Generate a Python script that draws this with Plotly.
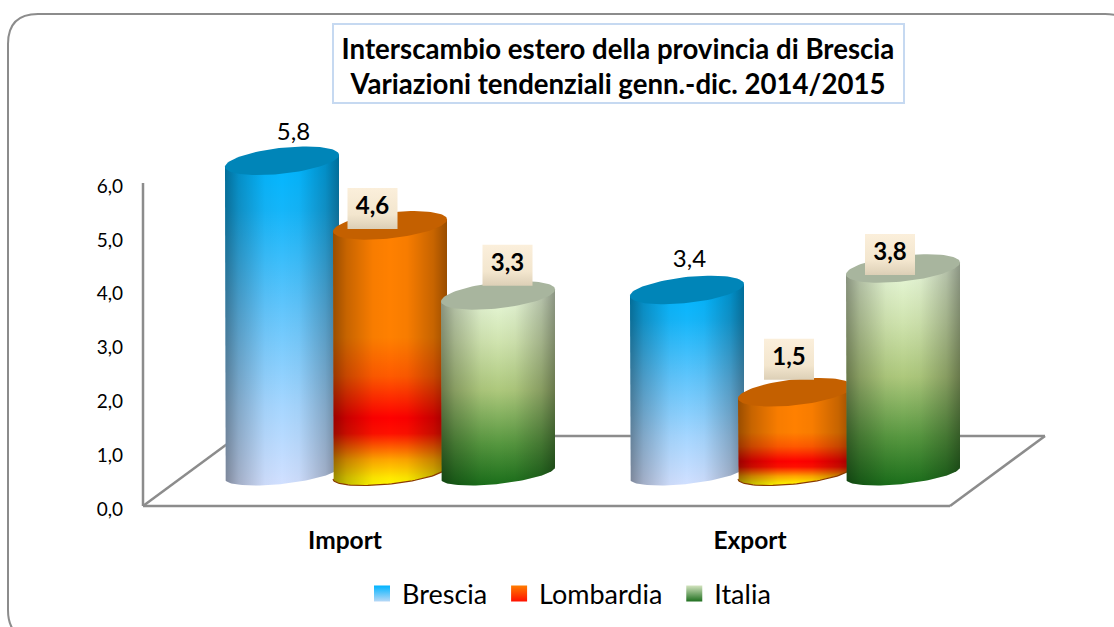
import numpy as np
import plotly.graph_objects as go

# ---- data ----
categories = ["Import", "Export"]
series_names = ["Brescia", "Lombardia", "Italia"]
brescia = [5.8, 3.4]
lombardia = [4.6, 1.5]
italia = [3.3, 3.8]
y_ticks = [0, 1, 2, 3, 4, 5, 6]
title_lines = ["Interscambio estero della provincia di Brescia",
               "Variazioni tendenziali genn.-dic. 2014/2015"]

# ---- geometry of the pseudo-3D scene ----
W, H = 1114, 627
PX_PER_X, PX_PER_Y = 405.0, 53.83     # px per category step / per unit of value
X0_PX, Y0_PX = 345.0, 506.0           # where category 0 / value 0 sit on the page
DEPTH_X, DEPTH_Y = 45 / PX_PER_X, 33 / PX_PER_Y   # cylinders stand inside the floor
STEP = 108 / PX_PER_X
HALF = 57 / PX_PER_X
ELL_B, ELL_S = 13 / PX_PER_Y, 6 / PX_PER_Y
ELL_B_LOW = 11 / PX_PER_Y
xr = [-X0_PX / PX_PER_X, (W - X0_PX) / PX_PER_X]
yr = [-(H - Y0_PX) / PX_PER_Y, Y0_PX / PX_PER_Y]

style = {
    "Brescia": dict(
        top="#0085B8", legend_pad=1,
        scale=[[0, "#D2E0FF"], [0.25, "#A5D6FF"], [0.55, "#60C5FC"], [0.85, "#14B6FA"], [1, "#00B6FF"]],
        leg=("#00B4FF", "#B8D8F6"), nudge=[(11.5, -27), (2.5, -29)]),
    "Lombardia": dict(
        top="#C46000", legend_pad=1, rim="#8A3A00",
        scale=[[0, "#FFF700"], [0.03, "#FFE800"], [0.1, "#FFA500"], [0.2, "#FF1000"], [0.26, "#FF0000"],
               [0.42, "#FF5A00"], [0.57, "#FF8000"], [1, "#FF8000"]],
        leg=("#FF7C00", "#FF1000"), nudge=[(-17.5, -17), (-6, -33)]),
    "Italia": dict(
        top="#A8B59E", legend_pad=0,
        scale=[[0, "#1A6E1A"], [0.22, "#56973F"], [0.5, "#ADC87C"], [0.75, "#CFE3AE"], [1, "#E8F8DA"]],
        leg=("#D2E3BE", "#1F6F1F"), nudge=[(9.5, -30), (-13, -14)]),
}
values = {"Brescia": brescia, "Lombardia": lombardia, "Italia": italia}
boxed = {"Lombardia", "Italia"}
shade = [[0, "rgba(0,0,0,0.40)"], [0.12, "rgba(0,0,0,0.22)"], [0.35, "rgba(0,0,0,0.03)"],
         [0.5, "rgba(0,0,0,0)"], [0.65, "rgba(0,0,0,0.03)"], [0.88, "rgba(0,0,0,0.22)"],
         [1, "rgba(0,0,0,0.40)"]]
box_scale = [[0, "#DCCFB6"], [0.35, "#F3E6CE"], [1, "#FBEFDB"]]
FONT = "Lato, Carlito, Calibri, sans-serif"

fig = go.Figure()


def ell(cx, cy, t, b=ELL_B):
    return cx + HALF * np.cos(t), cy + b * np.sin(t) + ELL_S * np.cos(t)


label_x, label_y, label_t, label_bold, boxes = [], [], [], [], []
for gi, cat in enumerate(categories):
    for si, name in enumerate(series_names):
        v = values[name][gi]
        st = style[name]
        cx = gi + DEPTH_X + (si - 1) * STEP
        base, top = DEPTH_Y, DEPTH_Y + v
        tb = np.linspace(np.pi, 2 * np.pi, 60)
        bx, by = ell(cx, base, tb, ELL_B_LOW)
        px = np.r_[cx - HALF, bx, cx + HALF, cx - HALF]
        py = np.r_[top - ELL_S, by, top + ELL_S, top - ELL_S]
        lo = base - np.hypot(ELL_B_LOW, ELL_S)
        fig.add_trace(go.Scatter(
            x=px, y=py, mode="lines", line=dict(width=0), fill="toself", showlegend=False,
            hoverinfo="skip",
            fillgradient=dict(type="vertical", start=lo, stop=top, colorscale=st["scale"])))
        fig.add_trace(go.Scatter(
            x=px, y=py, mode="lines", line=dict(width=0), fill="toself", showlegend=False,
            hoverinfo="skip",
            fillgradient=dict(type="horizontal", start=cx - HALF, stop=cx + HALF, colorscale=shade)))
        if "rim" in st:
            fig.add_trace(go.Scatter(x=bx, y=by, mode="lines", line=dict(width=1.2, color=st["rim"]),
                                     showlegend=False, hoverinfo="skip"))
        tt = np.linspace(0, 2 * np.pi, 90)
        ex, ey = ell(cx, top, tt)
        fig.add_trace(go.Scatter(
            x=ex, y=ey, mode="lines", line=dict(width=0), fill="toself", fillcolor=st["top"],
            showlegend=False, hoverinfo="skip"))
        dx, dy = st["nudge"][gi]
        lx, ly = cx + dx / PX_PER_X, top - dy / PX_PER_Y
        label_x.append(lx); label_y.append(ly)
        label_t.append(f"{v:.1f}".replace(".", ","))
        label_bold.append(name in boxed)
        if name in boxed:
            hw, hh = 25 / PX_PER_X, 20.5 / PX_PER_Y
            boxes.append(go.Scatter(
                x=[lx - hw, lx + hw, lx + hw, lx - hw, lx - hw],
                y=[ly - hh, ly - hh, ly + hh, ly + hh, ly - hh],
                mode="lines", line=dict(width=0), fill="toself", showlegend=False, hoverinfo="skip",
                fillgradient=dict(type="vertical", start=ly - hh, stop=ly + hh, colorscale=box_scale)))

for b in boxes:
    fig.add_trace(b)

for bold in (False, True):
    idx = [i for i, b in enumerate(label_bold) if b == bold]
    fig.add_trace(go.Scatter(
        x=[label_x[i] for i in idx], y=[label_y[i] for i in idx],
        text=[label_t[i] for i in idx], mode="text", textposition="middle center",
        textfont=dict(family=FONT, size=24, color="#000", weight=700 if bold else 400),
        showlegend=False, hoverinfo="skip"))

for name in series_names:
    c0, c1 = style[name]["leg"]
    fig.add_trace(go.Scatter(
        x=[None], y=[None], mode="markers", name=name + "\u00a0" * style[name]["legend_pad"],
        marker=dict(symbol="square", size=16, color=c0,
                    gradient=dict(type="vertical", color=c1), line=dict(width=0))))

# floor and wall of the 3D box
GRAY = "#8C8C8C"
xl, xf = (143 - X0_PX) / PX_PER_X, (950 - X0_PX) / PX_PER_X
ddx, ddy = 95 / PX_PER_X, 70 / PX_PER_Y
shapes = [
    dict(type="line", x0=xl, x1=xl, y0=0, y1=y_ticks[-1]),
    dict(type="line", x0=xl, x1=xf, y0=0, y1=0),
    dict(type="line", x0=xf, x1=xf + ddx, y0=0, y1=ddy),
    dict(type="line", x0=xf + ddx, x1=xl + ddx, y0=ddy, y1=ddy),
    dict(type="line", x0=xl + ddx, x1=xl, y0=ddy, y1=0),
]
for s in shapes:
    s.update(xref="x", yref="y", layer="below", line=dict(color=GRAY, width=2.5))

# outer rounded frame (runs past the right and bottom page edges) and title box
L, T, R, B, Rd = 8 / W, 1 - 14 / H, 1135 / W, 1 - 640 / H, 30
rx, ry = Rd / W, Rd / H
frame = (f"M{L+rx},{T} L{R-rx},{T} Q{R},{T} {R},{T-ry} L{R},{B+ry} Q{R},{B} {R-rx},{B} "
         f"L{L+rx},{B} Q{L},{B} {L},{B+ry} L{L},{T-ry} Q{L},{T} {L+rx},{T} Z")
shapes.append(dict(type="path", path=frame, xref="paper", yref="paper", layer="below",
                   line=dict(color=GRAY, width=2)))
shapes.append(dict(type="rect", xref="paper", yref="paper", layer="below",
                   x0=333 / W, x1=904 / W, y0=1 - 103 / H, y1=1 - 24 / H,
                   line=dict(color="#C6D9F1", width=2), fillcolor="white"))

fig.update_layout(
    width=W, height=H, margin=dict(l=0, r=0, t=0, b=0),
    paper_bgcolor="white", plot_bgcolor="rgba(0,0,0,0)",
    separators=",.",
    font=dict(family=FONT, color="#000"),
    title=dict(text="<br>".join(title_lines), x=618 / W, xanchor="center", xref="paper",
               y=1 - 58.5 / H, yanchor="middle", yref="paper",
               font=dict(family=FONT, size=27.6, color="#000", weight=700)),
    shapes=shapes,
    showlegend=True,
    legend=dict(orientation="h", x=569 / W, xanchor="center", y=1 - 594 / H, yanchor="middle",
                font=dict(family=FONT, size=27, color="#000"), itemsizing="trace",
                bgcolor="rgba(0,0,0,0)", tracegroupgap=0),
    xaxis=dict(range=xr, anchor="free", position=(H - Y0_PX) / H, tickmode="array",
               tickvals=list(range(len(categories))), ticktext=categories,
               showgrid=False, zeroline=False, showline=False, ticks="",
               ticklabelstandoff=17,
               tickfont=dict(family=FONT, size=24.5, color="#000", weight=700)),
    yaxis=dict(range=yr, anchor="free", position=143 / W, tickmode="array",
               tickvals=y_ticks, tickformat=".1f",
               showgrid=False, zeroline=False, showline=False, ticks="",
               ticklabelstandoff=20, ticklabelshift=3,
               tickfont=dict(family=FONT, size=19, color="#000")),
)

fig.write_html("out.html", config=dict(displayModeBar=False),
               post_script="document.body.style.margin='0';document.body.style.overflow='hidden';")
